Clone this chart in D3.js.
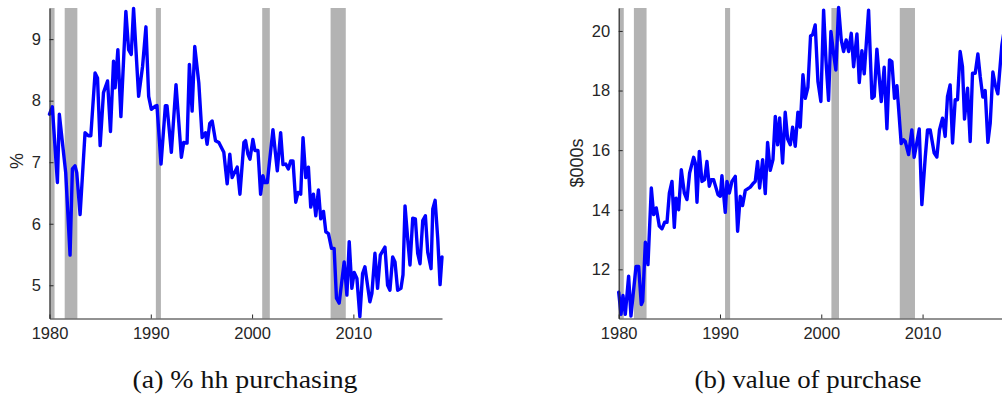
<!DOCTYPE html>
<html>
<head>
<meta charset="utf-8">
<script src="https://cdn.jsdelivr.net/npm/d3@7"></script>
<style>
  html, body { margin: 0; padding: 0; background: #fff; }
  svg { display: block; }
  .tick text { font-family: "Liberation Sans", Arial, sans-serif; font-size: 16.5px; fill: #262626; }
  .caption { font-family: "Liberation Serif", "DejaVu Serif", serif; font-size: 25px; fill: #111; }
  .ylab { font-family: "Liberation Sans", Arial, sans-serif; font-size: 18px; fill: #262626; }
</style>
</head>
<body>
<svg id="chart" width="1002" height="408"></svg>
<script>
// Recession periods (NBER), in fractional years
const recessionStart = [1980.0, 1981.5, 1990.5, 2001.0, 2007.75];
const recessionEnd   = [1980.5, 1982.75, 1991.0, 2001.75, 2009.25];

const xTickValues = [1980, 1990, 2000, 2010];
const yTicksA = [5, 6, 7, 8, 9];
const yTicksB = [12, 14, 16, 18, 20];

// (a) share of households purchasing, %
const yearsA = [
  1980.00, 1980.28, 1980.78, 1980.97, 1981.60, 1982.03, 1982.26, 1982.52, 1982.69, 1983.02,
  1983.51, 1983.84, 1984.08, 1984.50, 1984.74, 1985.00, 1985.33, 1985.73, 1986.02, 1986.32,
  1986.48, 1986.75, 1987.05, 1987.54, 1987.81, 1988.07, 1988.30, 1988.80, 1989.19, 1989.52,
  1989.79, 1990.05, 1990.45, 1990.61, 1991.01, 1991.44, 1991.60, 1992.03, 1992.49, 1993.02,
  1993.25, 1993.58, 1993.81, 1994.08, 1994.34, 1994.74, 1995.07, 1995.40, 1995.56, 1995.82,
  1996.06, 1996.39, 1996.72, 1997.21, 1997.54, 1997.80, 1998.03, 1998.53, 1998.80, 1999.19,
  1999.36, 1999.59, 1999.79, 2000.08, 2000.28, 2000.58, 2000.84, 2001.07, 2001.24, 2001.50,
  2002.06, 2002.49, 2002.82, 2003.05, 2003.32, 2003.58, 2003.81, 2004.04, 2004.31, 2004.54,
  2004.80, 2005.03, 2005.30, 2005.56, 2005.79, 2006.06, 2006.29, 2006.55, 2006.78, 2007.05,
  2007.28, 2007.54, 2007.84, 2008.10, 2008.33, 2008.60, 2009.09, 2009.36, 2009.59, 2009.85,
  2010.08, 2010.35, 2010.64, 2010.91, 2011.14, 2011.63, 2011.83, 2012.13, 2012.39, 2012.66,
  2013.12, 2013.38, 2013.61, 2013.88, 2014.11, 2014.37, 2014.70, 2014.90, 2015.10, 2015.36,
  2015.59, 2015.86, 2016.12, 2016.35, 2016.58, 2016.85, 2017.11, 2017.34, 2017.67, 2017.84,
  2018.07, 2018.33, 2018.56, 2018.75
];
const pctA = [
  7.78, 7.90, 6.67, 7.78, 6.83, 5.49, 6.89, 6.94, 6.83, 6.15,
  7.48, 7.43, 7.43, 8.45, 8.37, 7.27, 8.13, 8.32, 7.50, 8.64,
  8.21, 8.83, 7.74, 9.45, 8.83, 8.75, 9.50, 8.07, 8.56, 9.20,
  8.07, 7.86, 7.91, 7.92, 6.97, 7.92, 7.92, 7.16, 8.26, 7.08,
  7.32, 7.31, 8.59, 7.83, 8.88, 8.29, 7.40, 7.48, 7.29, 7.63,
  7.67, 7.35, 7.32, 7.16, 6.65, 7.13, 6.75, 6.92, 6.48, 7.32,
  7.35, 7.13, 7.05, 7.37, 7.19, 7.19, 6.48, 6.78, 6.67, 6.67,
  7.53, 6.86, 7.48, 6.96, 6.97, 6.89, 7.02, 7.02, 6.35, 6.51,
  6.48, 7.40, 6.75, 6.92, 6.27, 6.48, 6.13, 6.55, 6.08, 6.20,
  5.87, 5.84, 5.60, 5.60, 4.79, 4.71, 5.38, 4.84, 5.71, 4.95,
  5.21, 5.11, 4.49, 5.19, 5.30, 4.73, 4.87, 5.52, 4.95, 5.49,
  5.62, 5.00, 4.92, 5.46, 5.38, 4.92, 4.95, 5.17, 6.29, 5.76,
  5.33, 6.09, 6.08, 5.52, 5.35, 6.05, 6.13, 5.54, 5.27, 6.24,
  6.38, 5.76, 5.01, 5.46
];

// (b) value of purchase, $000s
const yearsB = [
  1980.00, 1980.23, 1980.42, 1980.65, 1980.98, 1981.21, 1981.71, 1981.97, 1982.23, 1982.37,
  1982.63, 1982.89, 1983.22, 1983.45, 1983.71, 1984.01, 1984.27, 1984.54, 1984.77, 1985.00,
  1985.26, 1985.49, 1985.66, 1985.92, 1986.18, 1986.48, 1986.74, 1987.00, 1987.40, 1987.56,
  1987.73, 1987.96, 1988.22, 1988.48, 1988.71, 1988.94, 1989.14, 1989.37, 1989.80, 1990.03,
  1990.19, 1990.52, 1990.69, 1990.92, 1991.18, 1991.51, 1991.74, 1992.00, 1992.23, 1992.50,
  1992.99, 1993.32, 1993.48, 1993.71, 1993.91, 1994.21, 1994.47, 1994.70, 1994.96, 1995.23,
  1995.46, 1995.69, 1995.89, 1996.18, 1996.44, 1996.68, 1996.94, 1997.17, 1997.43, 1997.69,
  1997.92, 1998.19, 1998.42, 1998.68, 1998.94, 1999.14, 1999.40, 1999.67, 1999.96, 2000.23,
  2000.46, 2000.72, 2000.95, 2001.21, 2001.44, 2001.71, 2001.97, 2002.20, 2002.46, 2002.70,
  2002.96, 2003.19, 2003.52, 2003.75, 2004.01, 2004.24, 2004.67, 2005.00, 2005.23, 2005.49,
  2005.92, 2006.21, 2006.48, 2006.74, 2006.97, 2007.23, 2007.47, 2007.89, 2008.12, 2008.29,
  2008.62, 2008.94, 2009.17, 2009.37, 2009.67, 2009.93, 2010.26, 2010.49, 2010.75, 2011.15,
  2011.41, 2011.67, 2011.97, 2012.23, 2012.46, 2012.72, 2012.96, 2013.22, 2013.45, 2013.71,
  2013.94, 2014.14, 2014.44, 2014.70, 2014.93, 2015.20, 2015.46, 2015.69, 2015.95, 2016.18,
  2016.45, 2016.68, 2016.94, 2017.17, 2017.43, 2017.83, 2018.10
];
const valB = [
  11.23, 10.49, 11.12, 10.49, 11.77, 10.43, 12.10, 12.10, 10.82, 10.93,
  12.91, 12.16, 14.73, 13.84, 14.06, 13.45, 13.36, 13.58, 13.58, 14.56,
  14.95, 13.41, 14.39, 14.00, 15.34, 14.56, 14.34, 15.23, 15.76, 15.57,
  14.25, 15.96, 14.95, 15.01, 15.62, 14.79, 15.01, 15.01, 14.51, 14.45,
  15.14, 13.91, 14.95, 14.56, 14.95, 15.12, 13.28, 14.45, 14.14, 14.65,
  14.76, 14.90, 14.95, 15.62, 14.73, 15.68, 14.54, 16.26, 15.32, 15.68,
  17.13, 16.18, 17.08, 15.57, 17.27, 16.37, 16.18, 16.77, 16.13, 17.27,
  16.77, 18.53, 17.74, 18.11, 19.83, 19.87, 20.20, 18.30, 17.63, 20.70,
  19.03, 17.67, 19.98, 19.25, 18.69, 20.79, 19.70, 19.31, 19.70, 19.31,
  19.92, 18.80, 19.90, 18.27, 19.34, 18.56, 20.70, 17.74, 17.80, 19.39,
  17.63, 18.78, 16.72, 19.03, 18.97, 17.74, 18.16, 16.22, 16.35, 16.29,
  15.85, 16.68, 15.76, 16.13, 16.71, 14.17, 15.74, 16.68, 16.68, 15.90,
  15.77, 16.68, 17.07, 16.46, 17.80, 18.19, 16.24, 17.69, 17.69, 19.31,
  18.80, 17.04, 18.08, 16.29, 18.58, 18.58, 19.23, 18.47, 17.78, 18.00,
  16.26, 16.91, 18.62, 18.19, 17.89, 19.53, 20.10
];

const svg = d3.select("#chart");
const axisColor = "#262626";
const plotTop = 8, plotBottom = 318.5;
const yearDomain = [1980, 2018.75];

function panel(opts) {
  const x = d3.scaleLinear().domain(yearDomain).range([opts.left, opts.left + 392.5]);
  const y = d3.scaleLinear().domain(opts.yDomain).range([plotBottom, plotTop]);
  const g = svg.append("g");

  // recession shading
  g.selectAll("rect.rec")
    .data(d3.range(recessionStart.length))
    .join("rect")
    .attr("class", "rec")
    .attr("x", i => x(recessionStart[i]))
    .attr("width", i => x(recessionEnd[i]) - x(recessionStart[i]))
    .attr("y", plotTop)
    .attr("height", plotBottom - plotTop)
    .attr("fill", "#b3b3b3");

  // series
  const pts = opts.years.map((t, i) => [t, opts.values[i]]);
  g.append("path")
    .datum(pts)
    .attr("fill", "none")
    .attr("stroke", "#0000ff")
    .attr("stroke-width", 3.4)
    .attr("stroke-linejoin", "round")
    .attr("stroke-linecap", "round")
    .attr("d", d3.line().x(d => x(d[0])).y(d => y(d[1])));

  // axes (ticks point inward)
  const xAxis = d3.axisBottom(x).tickValues(xTickValues).tickFormat(d3.format("d"))
    .tickSizeInner(-4).tickSizeOuter(0).tickPadding(9);
  const gx = g.append("g").attr("transform", `translate(0,${plotBottom})`).call(xAxis);
  const yAxis = d3.axisLeft(y).tickValues(opts.yTicks).tickFormat(d3.format("d"))
    .tickSizeInner(-4).tickSizeOuter(0).tickPadding(7);
  const gy = g.append("g").attr("transform", `translate(${opts.left},0)`).call(yAxis);
  [gx, gy].forEach(a => {
    a.select(".domain").attr("stroke", axisColor).attr("stroke-width", 1.1);
    a.selectAll(".tick line").attr("stroke", axisColor).attr("stroke-width", 1);
  });
  gx.selectAll(".tick text").attr("dy", "0.71em");
  gy.selectAll(".tick text").attr("dx", "-0.1em");

  // axis title
  g.append("text")
    .attr("class", "ylab")
    .attr("transform", `translate(${opts.ylabX},${opts.ylabY}) rotate(-90)`)
    .attr("text-anchor", "middle")
    .text(opts.ylabel);

  // caption
  g.append("text")
    .attr("class", "caption")
    .attr("x", opts.capX)
    .attr("y", 388)
    .attr("text-anchor", "middle")
    .attr("textLength", opts.capW)
    .attr("lengthAdjust", "spacingAndGlyphs")
    .text(opts.caption);
}

panel({
  left: 49.5, yDomain: [4.46, 9.506], yTicks: yTicksA,
  years: yearsA, values: pctA,
  ylabel: "%", ylabX: 23, ylabY: 161,
  caption: "(a) % hh purchasing", capX: 245, capW: 225
});

panel({
  left: 618.7, yDomain: [10.35, 20.77], yTicks: yTicksB,
  years: yearsB, values: valB,
  ylabel: "$000s", ylabX: 583, ylabY: 163,
  caption: "(b) value of purchase", capX: 808, capW: 227
});
</script>
</body>
</html>
